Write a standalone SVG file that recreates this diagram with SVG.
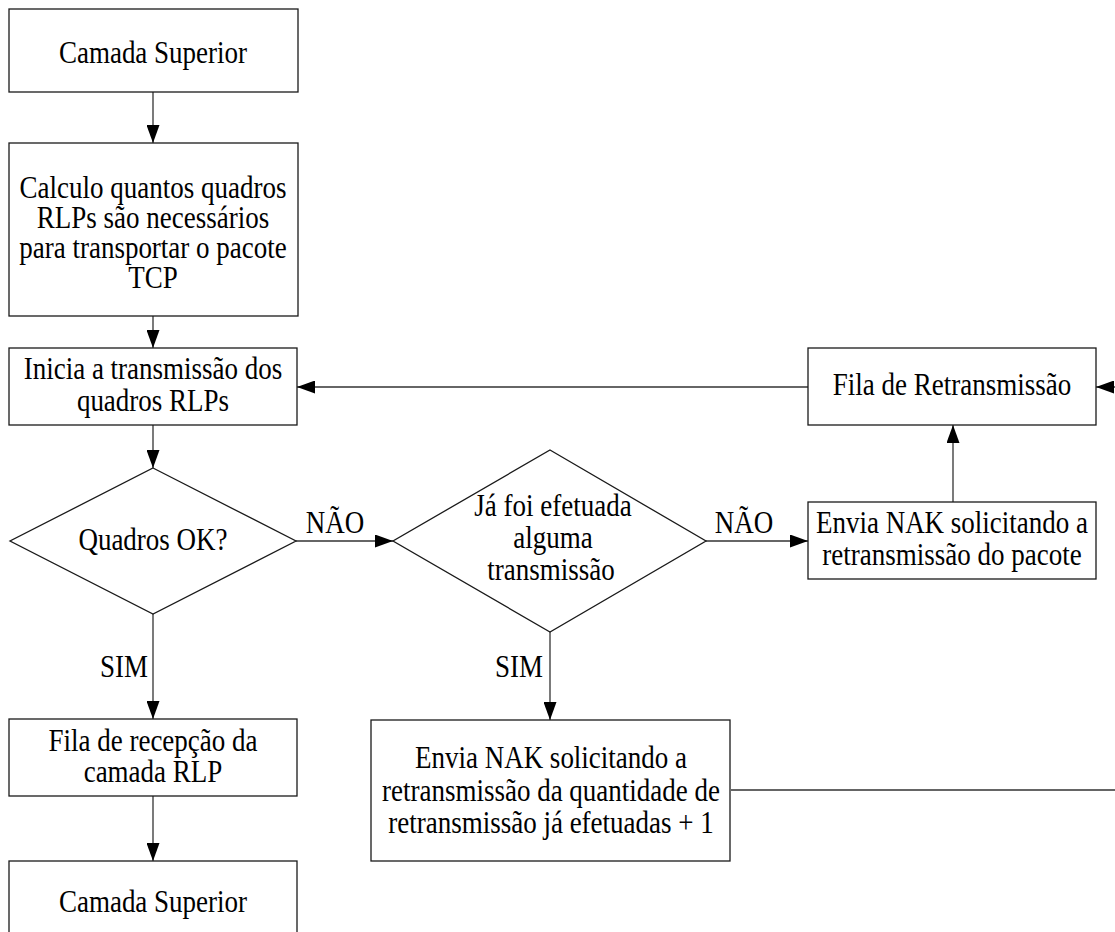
<svg xmlns="http://www.w3.org/2000/svg" width="1115" height="932" viewBox="0 0 1115 932">
  <style>
    .box { fill: #ffffff; stroke: #1a1a1a; stroke-width: 1.3; }
    .lbl { font-family: "Liberation Serif", "Times New Roman", serif; font-size: 27px; fill: #000; text-anchor: middle; }
    .edge { fill: none; stroke: #333; stroke-width: 1.3; }
  </style>
  <defs>
    <marker id="arrow" markerUnits="userSpaceOnUse" markerWidth="18" markerHeight="13" refX="18" refY="6.5" orient="auto">
      <path d="M0,0 L18,6.5 L0,13 z" fill="#000"/>
    </marker>
  </defs>
  <rect width="1115" height="932" fill="#ffffff"/>

  <!-- labels are stretched vertically by 1.17 about their own baseline -->
  <g id="connectors">
    <line class="edge" x1="153" y1="92" x2="153" y2="143" marker-end="url(#arrow)"/>
    <line class="edge" x1="153" y1="316" x2="153" y2="348" marker-end="url(#arrow)"/>
    <line class="edge" x1="153" y1="425" x2="153" y2="468" marker-end="url(#arrow)"/>
    <line class="edge" x1="296" y1="541" x2="393" y2="541" marker-end="url(#arrow)"/>
    <line class="edge" x1="706" y1="541" x2="808" y2="541" marker-end="url(#arrow)"/>
    <line class="edge" x1="953" y1="502" x2="953" y2="425" marker-end="url(#arrow)"/>
    <line class="edge" x1="808" y1="387" x2="297" y2="387" marker-end="url(#arrow)"/>
    <line class="edge" x1="153" y1="614" x2="153" y2="719" marker-end="url(#arrow)"/>
    <line class="edge" x1="153" y1="796" x2="153" y2="861" marker-end="url(#arrow)"/>
    <line class="edge" x1="550" y1="632" x2="550" y2="720" marker-end="url(#arrow)"/>
    <path class="edge" d="M731,790 H1130 V387 H1096" marker-end="url(#arrow)"/>
    <text class="lbl" x="335" y="533" transform="matrix(1,0,0,1.17,0,-90.61)">NÃO</text>
    <text class="lbl" x="744" y="533" transform="matrix(1,0,0,1.17,0,-90.61)">NÃO</text>
    <text class="lbl" x="124" y="677" transform="matrix(1,0,0,1.17,0,-115.09)">SIM</text>
    <text class="lbl" x="519" y="677" transform="matrix(1,0,0,1.17,0,-115.09)">SIM</text>
  </g>

  <g id="camada-superior-topo">
    <rect class="box" x="9" y="9" width="289" height="83"/>
    <text class="lbl" x="153" y="63" transform="matrix(1,0,0,1.17,0,-10.71)">Camada Superior</text>
  </g>

  <g id="calculo-quadros">
    <rect class="box" x="9" y="143" width="289" height="173"/>
    <text class="lbl" x="153" y="198" transform="matrix(1,0,0,1.17,0,-33.66)">Calculo quantos quadros</text>
    <text class="lbl" x="153" y="228" transform="matrix(1,0,0,1.17,0,-38.76)">RLPs são necessários</text>
    <text class="lbl" x="153" y="258" transform="matrix(1,0,0,1.17,0,-43.86)">para transportar o pacote</text>
    <text class="lbl" x="153" y="288" transform="matrix(1,0,0,1.17,0,-48.96)">TCP</text>
  </g>

  <g id="inicia-transmissao">
    <rect class="box" x="9" y="348" width="288" height="77"/>
    <text class="lbl" x="153" y="379" transform="matrix(1,0,0,1.17,0,-64.43)">Inicia a transmissão dos</text>
    <text class="lbl" x="153" y="411" transform="matrix(1,0,0,1.17,0,-69.87)">quadros RLPs</text>
  </g>

  <g id="quadros-ok">
    <polygon class="box" points="153,468 296,541 153,614 10,541"/>
    <text class="lbl" x="153" y="550" transform="matrix(1,0,0,1.17,0,-93.5)">Quadros OK?</text>
  </g>

  <g id="ja-foi-efetuada">
    <polygon class="box" points="550,450 706,541 550,632 393,541"/>
    <text class="lbl" x="553" y="516" transform="matrix(1,0,0,1.17,0,-87.72)">Já foi efetuada</text>
    <text class="lbl" x="553" y="548" transform="matrix(1,0,0,1.17,0,-93.16)">alguma</text>
    <text class="lbl" x="551" y="580" transform="matrix(1,0,0,1.17,0,-98.6)">transmissão</text>
  </g>

  <g id="fila-retransmissao">
    <rect class="box" x="808" y="348" width="288" height="77"/>
    <text class="lbl" x="952" y="395" transform="matrix(1,0,0,1.17,0,-67.15)">Fila de Retransmissão</text>
  </g>

  <g id="nak-pacote">
    <rect class="box" x="808" y="502" width="288" height="77"/>
    <text class="lbl" x="952" y="533" transform="matrix(1,0,0,1.17,0,-90.61)">Envia NAK solicitando a</text>
    <text class="lbl" x="952" y="565" transform="matrix(1,0,0,1.17,0,-96.05)">retransmissão do pacote</text>
  </g>

  <g id="fila-recepcao">
    <rect class="box" x="9" y="719" width="288" height="77"/>
    <text class="lbl" x="153" y="751" transform="matrix(1,0,0,1.17,0,-127.67)">Fila de recepção da</text>
    <text class="lbl" x="153" y="782" transform="matrix(1,0,0,1.17,0,-132.94)">camada RLP</text>
  </g>

  <g id="nak-quantidade">
    <rect class="box" x="371" y="720" width="359" height="141"/>
    <text class="lbl" x="551" y="768" transform="matrix(1,0,0,1.17,0,-130.56)">Envia NAK solicitando a</text>
    <text class="lbl" x="551" y="801" transform="matrix(1,0,0,1.17,0,-136.17)">retransmissão da quantidade de</text>
    <text class="lbl" x="551" y="833" transform="matrix(1,0,0,1.17,0,-141.61)">retransmissão já efetuadas + 1</text>
  </g>

  <g id="camada-superior-base">
    <rect class="box" x="9" y="861" width="288" height="83"/>
    <text class="lbl" x="153" y="912" transform="matrix(1,0,0,1.17,0,-155.04)">Camada Superior</text>
  </g>
</svg>
